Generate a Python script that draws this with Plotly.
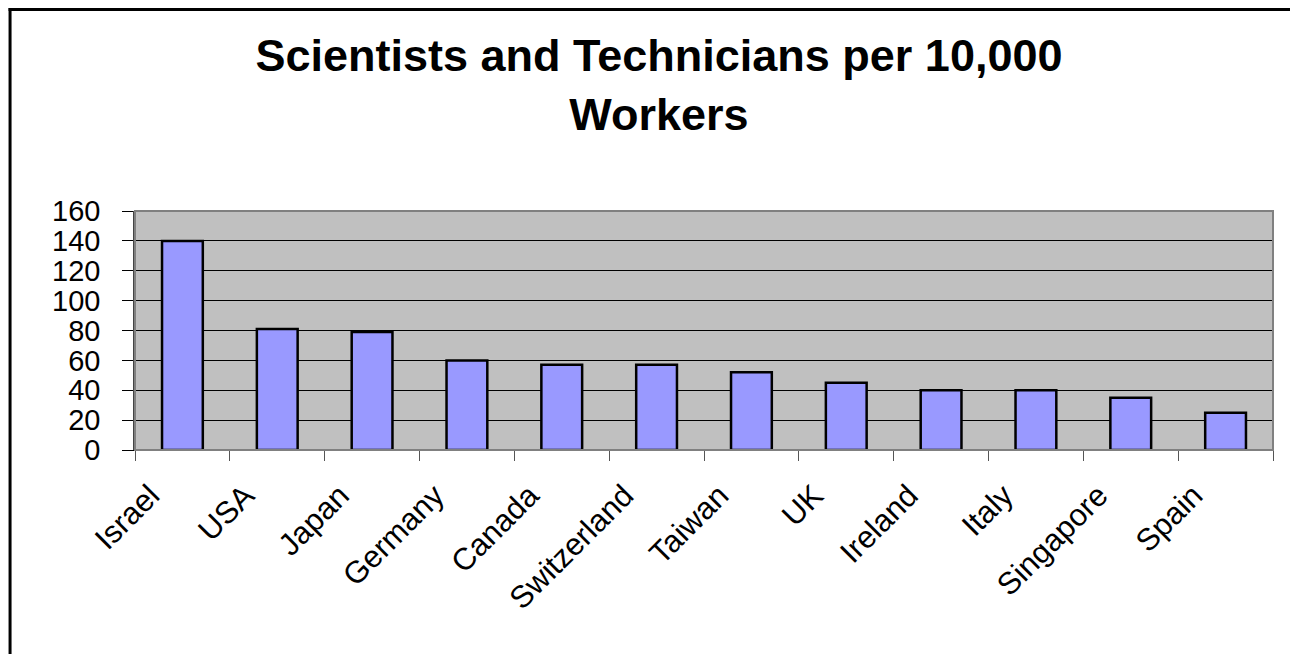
import plotly.graph_objects as go

countries = ["Israel", "USA", "Japan", "Germany", "Canada", "Switzerland",
             "Taiwan", "UK", "Ireland", "Italy", "Singapore", "Spain"]
values = [140, 81, 79, 60, 57, 57, 52, 45, 40, 40, 35, 25]
y_ticks = [0, 20, 40, 60, 80, 100, 120, 140, 160]

# page is offset by 8px body margin
W, H = 1290, 646
L, R, T, B = 126.5, 1265, 203, 442
pw, ph = R - L, B - T

def px(x):
    return (x - L) / pw

def py(y):
    return (B - y) / ph

fig = go.Figure()
fig.add_trace(go.Bar(
    x=countries, y=values,
    marker=dict(color="#9999FF", line=dict(color="black", width=2.5)),
))

fig.update_layout(
    width=W, height=H,
    margin=dict(l=L, r=W - R, t=T, b=H - B, pad=0),
    paper_bgcolor="white",
    plot_bgcolor="#C0C0C0",
    bargap=0.57,
    showlegend=False,
    font=dict(family="Arial, Liberation Sans", color="black"),
    title=dict(
        text="<b>Scientists and Technicians per 10,000<br>Workers</b>",
        x=651 / W, xanchor="center", xref="container",
        y=1 - 63 / H, yanchor="top", yref="container",
        font=dict(size=45, family="Arial, Liberation Sans", color="black"),
    ),
    xaxis=dict(
        tickangle=-45,
        tickson="boundaries",
        ticks="outside", ticklen=10, tickcolor="#555", tickwidth=1,
        showline=True, linecolor="black", linewidth=1,
        showgrid=False,
        tickfont=dict(size=31, family="Arial, Liberation Sans", color="black"),
        ticklabelshift=-32,
        ticklabelstandoff=14,
    ),
    yaxis=dict(
        range=[0, 160],
        tickvals=y_ticks,
        ticks="outside", ticklen=11, tickcolor="black", tickwidth=1,
        showline=True, linecolor="#444", linewidth=1.5,
        showgrid=True, gridcolor="black", gridwidth=1,
        zeroline=False,
        tickfont=dict(size=29, family="Arial, Liberation Sans", color="black"),
        ticklabelstandoff=16,
    ),
    shapes=[
        dict(type="rect", xref="paper", yref="paper",
             x0=0, x1=1, y0=0, y1=1,
             line=dict(color="#808080", width=2), layer="above"),
        dict(type="line", xref="paper", yref="paper",
             x0=px(1.5), x1=px(1.5), y0=py(0), y1=py(H + 10),
             line=dict(color="black", width=3), layer="above"),
        dict(type="line", xref="paper", yref="paper",
             x0=px(0), x1=px(W), y0=py(1.5), y1=py(1.5),
             line=dict(color="black", width=3), layer="above"),
        dict(type="line", xref="paper", yref="paper",
             x0=px(W - 1), x1=px(W - 1), y0=py(0), y1=py(H + 10),
             line=dict(color="#888", width=1.5), layer="above"),
    ],
)

fig.write_html("out.html")
